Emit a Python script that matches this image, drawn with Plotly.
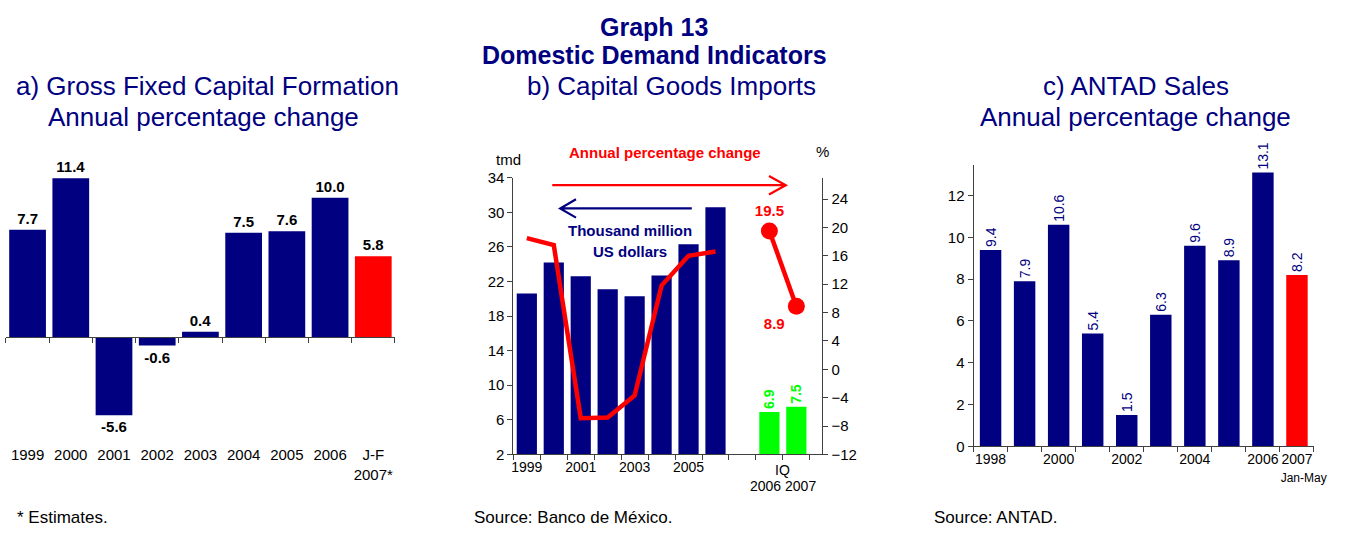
import plotly.graph_objects as go

W, H = 1353, 535

NAVY = "#000080"
RED = "#FF0000"
GREEN = "#00FF00"
AXIS = "#404040"
FONT = "Liberation Sans, Arial, sans-serif"

# a) Gross fixed capital formation, annual % change
gfcf_periods = ["1999", "2000", "2001", "2002", "2003", "2004", "2005", "2006", "J-F<br>2007*"]
gfcf_change = [7.7, 11.4, -5.6, -0.6, 0.4, 7.5, 7.6, 10.0, 5.8]

# b) Capital goods imports (thousand million US dollars) and annual % change
imp_periods = ["1999", "2000", "2001", "2002", "2003", "2004", "2005", "2006", " ", "IQ 2006", "IQ 2007"]
imp_ticktext = ["1999", "", "2001", "", "2003", "", "2005", "", "", "", ""]
imp_values = [20.6, 24.2, 22.6, 21.1, 20.3, 22.7, 26.3, 30.6, None, 6.9, 7.5]
imp_quarterly = [False] * 9 + [True, True]
imp_change_years = ["1999", "2000", "2001", "2002", "2003", "2004", "2005", "2006"]
imp_change = [18.5, 17.5, -6.9, -6.8, -3.7, 11.8, 16.0, 16.6]
imp_change_q_periods = ["IQ 2006", "IQ 2007"]
imp_change_q = [19.5, 8.9]

# c) ANTAD sales, annual % change
antad_periods = ["1998", "1999", "2000", "2001", "2002", "2003", "2004", "2005", "2006", "2007 Jan-May"]
antad_ticktext = ["1998", "", "2000", "", "2002", "", "2004", "", "2006",
                  "2007<br><span style='font-size:12px'>    Jan-May</span>"]
antad_change = [9.4, 7.9, 10.6, 5.4, 1.5, 6.3, 9.6, 8.9, 13.1, 8.2]


def fx(x):
    """pixel x -> paper fraction"""
    return x / W


def fy(y):
    """pixel y (from top) -> paper fraction"""
    return 1 - y / H


fig = go.Figure()

# ---------- panel a ----------
a_dom_y = [fy(445), fy(150)]
a_range = [-7.36, 13.125]
a_zero = a_dom_y[0] + (0 - a_range[0]) / (a_range[1] - a_range[0]) * (a_dom_y[1] - a_dom_y[0])

fig.add_trace(go.Bar(
    x=gfcf_periods, y=gfcf_change, xaxis="x", yaxis="y",
    width=0.85,
    marker=dict(color=[NAVY] * (len(gfcf_change) - 1) + [RED], line=dict(width=0)),
    texttemplate="%{y:.1f}", textposition="outside", constraintext="none",
    textfont=dict(family=FONT, size=15, color="black", weight="bold"),
    cliponaxis=False, showlegend=False, hoverinfo="skip",
))

# ---------- panel b ----------
fig.add_trace(go.Bar(
    x=imp_periods, y=imp_values, xaxis="x2", yaxis="y2",
    width=0.75,
    marker=dict(color=[GREEN if q else NAVY for q in imp_quarterly], line=dict(width=0)),
    text=[f"{v:.1f}" if q else "" for v, q in zip(imp_values, imp_quarterly)],
    textposition="outside", textangle=-90, constraintext="none",
    textfont=dict(family=FONT, size=14, color=GREEN, weight="bold"),
    cliponaxis=False, showlegend=False, hoverinfo="skip",
))
fig.add_trace(go.Scatter(
    x=imp_change_years, y=imp_change, xaxis="x2", yaxis="y3",
    mode="lines", line=dict(color=RED, width=4.5),
    showlegend=False, hoverinfo="skip",
))
fig.add_trace(go.Scatter(
    x=imp_change_q_periods, y=imp_change_q, xaxis="x2", yaxis="y3",
    mode="lines+markers+text", line=dict(color=RED, width=4.5),
    marker=dict(color=RED, size=17),
    text=[f"{v:.1f}" for v in imp_change_q],
    textposition=["top center", "bottom left"],
    textfont=dict(family=FONT, size=15, color=RED, weight="bold"),
    cliponaxis=False, showlegend=False, hoverinfo="skip",
))

# ---------- panel c ----------
fig.add_trace(go.Bar(
    x=antad_periods, y=antad_change, xaxis="x3", yaxis="y4",
    width=0.63,
    marker=dict(color=[NAVY] * (len(antad_change) - 1) + [RED], line=dict(width=0)),
    texttemplate="%{y:.1f}", textposition="outside", textangle=-90, constraintext="none",
    textfont=dict(family=FONT, size=14, color=NAVY),
    cliponaxis=False, showlegend=False, hoverinfo="skip",
))

tickfont = dict(family=FONT, size=15, color="black")

fig.update_layout(
    width=W, height=H,
    margin=dict(l=0, r=0, t=0, b=0),
    paper_bgcolor="white", plot_bgcolor="white",
    font=dict(family=FONT, color="black"),
    showlegend=False,
    # panel a
    xaxis=dict(domain=[fx(4), fx(397)], type="category", anchor="free", position=a_zero,
               showline=True, linecolor=AXIS, linewidth=1, ticks="outside", tickson="boundaries",
               ticklen=5, tickcolor=AXIS, showgrid=False, zeroline=False, tickangle=0,
               tickfont=tickfont, ticklabelstandoff=104, fixedrange=True),
    yaxis=dict(domain=a_dom_y, range=a_range, visible=False, fixedrange=True),
    # panel b
    xaxis2=dict(domain=[fx(516.7), fx(829)], type="category", anchor="y2",
                categoryorder="array", categoryarray=imp_periods,
                tickvals=imp_periods, ticktext=imp_ticktext, tickangle=0,
                showline=True, linecolor=AXIS, linewidth=1, ticks="outside", tickson="boundaries",
                ticklen=5, tickcolor=AXIS, showgrid=False, zeroline=False,
                tickfont=dict(family=FONT, size=14, color="black"), fixedrange=True),
    yaxis2=dict(domain=[fy(460), fy(174.3)], range=[2, 34], tick0=2, dtick=4, anchor="x2",
                showline=True, linecolor=AXIS, linewidth=1, ticks="outside", ticklen=5,
                tickcolor=AXIS, showgrid=False, zeroline=False, tickfont=tickfont, fixedrange=True),
    yaxis3=dict(overlaying="y2", side="right", anchor="x2", range=[-12, 27],
                tickvals=list(range(-12, 25, 4)),
                showline=True, linecolor=AXIS, linewidth=1, ticks="outside", ticklen=5,
                tickcolor=AXIS, showgrid=False, zeroline=False, tickfont=tickfont, fixedrange=True),
    # panel c
    xaxis3=dict(domain=[fx(981.7), fx(1325.7)], type="category", anchor="y4",
                categoryorder="array", categoryarray=antad_periods,
                tickvals=antad_periods, ticktext=antad_ticktext, tickangle=0,
                showline=True, linecolor=AXIS, linewidth=1, ticks="outside", tickson="boundaries",
                ticklen=5, tickcolor=AXIS, showgrid=False, zeroline=False,
                tickfont=dict(family=FONT, size=14, color="black"), fixedrange=True),
    yaxis4=dict(domain=[fy(451.7), fy(161)], range=[0, 13.47], dtick=2, anchor="x3",
                showline=True, linecolor=AXIS, linewidth=1, ticks="outside", ticklen=5,
                tickcolor=AXIS, showgrid=False, zeroline=False, tickfont=tickfont, fixedrange=True),
)


def label(text, x, y, size, color="black", bold=False, xanchor="center"):
    fig.add_annotation(
        text=text, x=fx(x), y=fy(y), xref="paper", yref="paper",
        xanchor=xanchor, yanchor="middle", showarrow=False,
        font=dict(family=FONT, size=size, color=color, weight="bold" if bold else "normal"),
    )


# headings
label("Graph 13", 659, 19, 25, NAVY, bold=True)
label("Domestic Demand Indicators", 659, 48, 25, NAVY, bold=True)
label("a) Gross Fixed Capital Formation", 208, 80, 26, NAVY)
label("Annual percentage change", 204, 112, 26, NAVY)
label("b) Capital Goods Imports", 676, 80, 26, NAVY)
label("c) ANTAD Sales", 1146, 80, 26, NAVY)
label("Annual percentage change", 1145, 112, 26, NAVY)

# panel b notes
label("Annual percentage change", 670, 148, 15, RED, bold=True)
label("tmd", 512, 155, 15)
label("%", 829, 147, 15)
label("Thousand million", 635, 229, 15, NAVY, bold=True)
label("US dollars", 635, 250, 15, NAVY, bold=True)
for txt, ypix in (("IQ", 476), ("2006 2007", 493)):
    fig.add_annotation(text=txt, x=9.5, y=fy(ypix), xref="x2", yref="paper", showarrow=False,
                       yanchor="middle", font=dict(family=FONT, size=14, color="black"))

# direction arrows for the two series
red_arrow = (f"M {fx(556)} {fy(182)} L {fx(792)} {fy(182)} "
             f"M {fx(775)} {fy(172.5)} L {fx(792)} {fy(182)} L {fx(775)} {fy(191.5)}")
blue_arrow = (f"M {fx(697)} {fy(206)} L {fx(564)} {fy(206)} "
              f"M {fx(580)} {fy(196.5)} L {fx(564)} {fy(206)} L {fx(580)} {fy(215.5)}")
fig.add_shape(type="path", path=red_arrow, xref="paper", yref="paper", line=dict(color=RED, width=2.2))
fig.add_shape(type="path", path=blue_arrow, xref="paper", yref="paper", line=dict(color=NAVY, width=2.2))

# footnotes
label("* Estimates.", 13, 525, 17, xanchor="left")
label("Source: Banco de México.", 475, 525, 17, xanchor="left")
label("Source: ANTAD.", 940, 525, 17, xanchor="left")

fig.write_html("out.html")
